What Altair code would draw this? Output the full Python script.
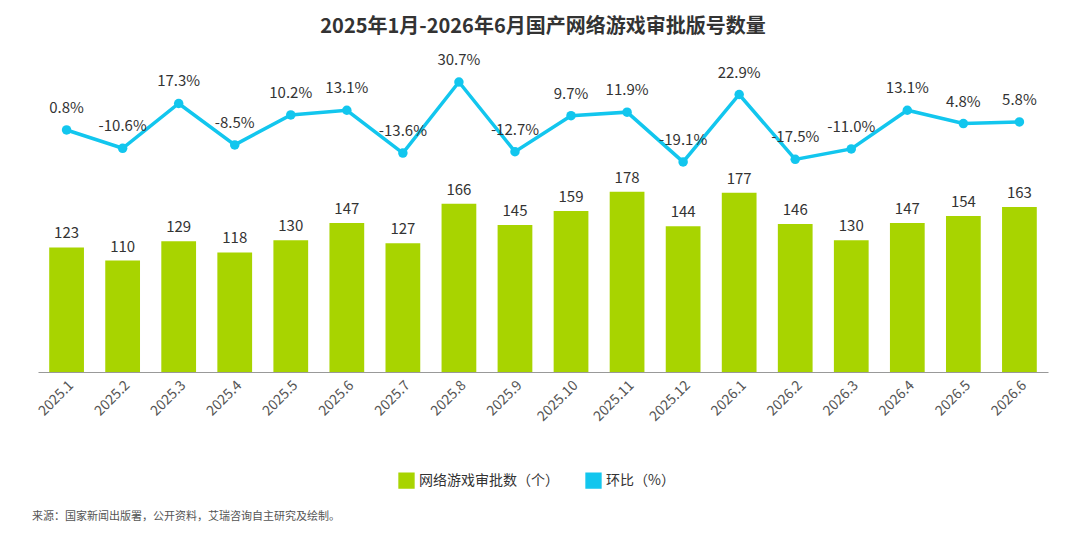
import altair as alt
import pandas as pd

months = ["2025.1", "2025.2", "2025.3", "2025.4", "2025.5", "2025.6", "2025.7", "2025.8", "2025.9",
          "2025.10", "2025.11", "2025.12", "2026.1", "2026.2", "2026.3", "2026.4", "2026.5", "2026.6"]
counts = [123, 110, 129, 118, 130, 147, 127, 166, 145, 159, 178, 144, 177, 146, 130, 147, 154, 163]
mom = [0.8, -10.6, 17.3, -8.5, 10.2, 13.1, -13.6, 30.7, -12.7, 9.7, 11.9, -19.1, 22.9, -17.5,
       -11.0, 13.1, 4.8, 5.8]

BAR = "网络游戏审批数（个）"
LINE = "环比（%）"
SOURCE = "来源：国家新闻出版署，公开资料，艾瑞咨询自主研究及绘制。"

df = pd.DataFrame({"month": months, "count": counts, "mom": mom})
df["mom_label"] = df["mom"].map(lambda v: f"{v:.1f}%")

font = "Noto Sans CJK SC"
x = alt.X("month:N", sort=months, title=None,
          axis=alt.Axis(labelAngle=-45, labelColor="#555", labelFontSize=14, ticks=False,
                        domainColor="#999", labelPadding=6),
          scale=alt.Scale(paddingInner=0.38, paddingOuter=0.2))
color = alt.Color("s:N", title=None,
                  scale=alt.Scale(domain=[BAR, LINE], range=["#A8D400", "#12C6EE"]),
                  legend=alt.Legend(orient="none", legendX=360, legendY=412, direction="horizontal",
                                    labelFontSize=14, labelColor="#333", symbolType="square",
                                    symbolSize=220, columnPadding=24))

ybar = alt.Y("count:Q", axis=None, scale=alt.Scale(domain=[0, 308]))
bars = alt.Chart(df).transform_calculate(s=f"'{BAR}'").mark_bar().encode(x=x, y=ybar, color=color)
bar_text = alt.Chart(df).mark_text(dy=-14, fontSize=15, color="#333", font=font).encode(
    x=x, y=ybar, text="count:Q")

yline = alt.Y("mom:Q", axis=None, scale=alt.Scale(domain=[-150, 44.4]))
line = alt.Chart(df).transform_calculate(s=f"'{LINE}'").mark_line(
    strokeWidth=3.5, point=alt.OverlayMarkDef(size=90, filled=True, color="#12C6EE")).encode(
    x=x, y=yline, color=color)
line_text = alt.Chart(df).mark_text(dy=-22, fontSize=15, color="#333", font=font).encode(
    x=x, y=yline, text="mom_label:N")

source = alt.Chart(pd.DataFrame({"t": [SOURCE]})).mark_text(
    align="left", fontSize=11, color="#555", font=font).encode(
    x=alt.value(-6), y=alt.value(457), text="t:N")

chart = alt.layer(
    alt.layer(bars, bar_text),
    alt.layer(line, line_text),
    source,
).resolve_scale(y="independent").properties(
    width=1010, height=312,
    title=alt.Title("2025年1月-2026年6月国产网络游戏审批版号数量", fontSize=20, font=font,
                    fontWeight="bold", color="#333", offset=16),
    padding={"left": 24, "top": 8, "right": 10, "bottom": 10},
).configure(font=font).configure_view(strokeWidth=0, stroke="transparent")

chart.save("out.html", embed_options={"renderer": "svg", "actions": False})
